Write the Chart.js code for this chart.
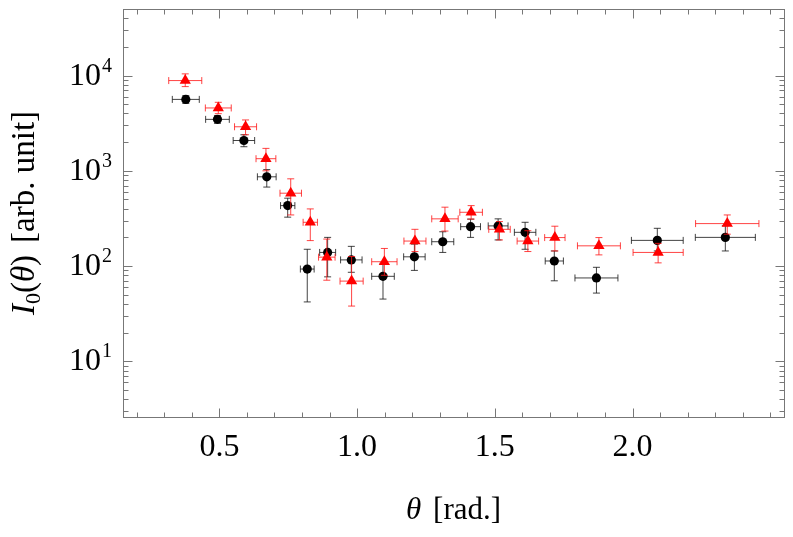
<!DOCTYPE html>
<html>
<head>
<meta charset="utf-8">
<script src="https://cdn.jsdelivr.net/npm/chart.js@4.4.1/dist/chart.umd.min.js"></script>
<style>
  body { margin: 0; background: #fff; }
  #wrap { width: 793px; height: 537px; }
</style>
</head>
<body>
<div id="wrap"><canvas id="chart" width="793" height="537"></canvas></div>
<script>
/*
DATA
*/
// black circles
const blackX    = [0.378, 0.493, 0.589, 0.672, 0.748, 0.819, 0.893, 0.979, 1.094, 1.208, 1.311, 1.412, 1.512, 1.610, 1.716, 1.869, 2.090, 2.337];
const blackY    = [5620, 3470, 2080, 865, 431, 93, 139, 116, 78, 125, 180, 259, 264, 226, 113, 75, 186, 200];
const blackXErr = [0.049, 0.043, 0.039, 0.034, 0.026, 0.025, 0.029, 0.039, 0.041, 0.039, 0.040, 0.036, 0.036, 0.039, 0.033, 0.078, 0.094, 0.109];
const blackYLo  = [5100, 3150, 1790, 675, 326, 42, 77, 86, 45, 90, 139, 200, 188, 150, 70, 52, 144, 144];
const blackYHi  = [6160, 3800, 2390, 1030, 516, 150, 200, 161, 107, 170, 229, 311, 313, 288, 144, 97, 249, 265];

// red triangles
const redX    = [0.376, 0.496, 0.595, 0.669, 0.759, 0.830, 0.890, 0.980, 1.099, 1.210, 1.319, 1.414, 1.517, 1.620, 1.718, 1.878, 2.093, 2.344];
const redY    = [8860, 4570, 2900, 1340, 582, 288, 124, 69.5, 111, 183, 313, 367, 243, 183, 199, 163, 139, 279];
const redXErr = [0.060, 0.047, 0.040, 0.036, 0.039, 0.026, 0.030, 0.042, 0.046, 0.040, 0.048, 0.041, 0.039, 0.039, 0.037, 0.078, 0.091, 0.115];
const redYLo  = [7660, 3980, 2390, 1000, 344, 185, 71, 38, 80, 142, 233, 311, 188, 142, 144, 131, 108, 216];
const redYHi  = [10420, 5240, 3420, 1720, 824, 398, 192, 126, 153, 243, 415, 431, 293, 235, 262, 199, 173, 344];

// ticks
const xMajorTicks = [0.5, 1.0, 1.5, 2.0];
const xTickLabels = ['0.5', '1.0', '1.5', '2.0'];
const xMinorTicks = [0.2, 0.3, 0.4, 0.6, 0.7, 0.8, 0.9, 1.1, 1.2, 1.3, 1.4, 1.6, 1.7, 1.8, 1.9, 2.1, 2.2, 2.3, 2.4, 2.5];
const yMajorTicks = [10, 100, 1000, 10000];
const yTickExp    = ['1', '2', '3', '4'];
const yMinorMult  = [2, 3, 4, 5, 6, 7, 8, 9];
const yDecades    = [1, 10, 100, 1000, 10000];

const SERIF = '"Liberation Serif", "DejaVu Serif", serif';

function toPoints(xs, ys) {
  return xs.map((v, i) => ({x: v, y: ys[i]}));
}

/*
PLUGINS
*/
// error bars drawn right before the markers of each dataset
const errorBars = {
  id: 'errorBars',
  beforeDatasetDraw(chart, args) {
    const ds = chart.data.datasets[args.index];
    const {ctx, scales: {x, y}} = chart;
    const cap = 3.5;
    ctx.save();
    ctx.strokeStyle = ds.errColor;
    ctx.lineWidth = 1;
    ds.data.forEach((p, i) => {
      const px = x.getPixelForValue(p.x);
      const py = y.getPixelForValue(p.y);
      const xl = x.getPixelForValue(p.x - ds.xErr[i]);
      const xr = x.getPixelForValue(p.x + ds.xErr[i]);
      const yl = y.getPixelForValue(ds.yLo[i]);
      const yh = y.getPixelForValue(ds.yHi[i]);
      ctx.beginPath();
      ctx.moveTo(xl, py); ctx.lineTo(xr, py);
      ctx.moveTo(xl, py - cap); ctx.lineTo(xl, py + cap);
      ctx.moveTo(xr, py - cap); ctx.lineTo(xr, py + cap);
      ctx.moveTo(px, yl); ctx.lineTo(px, yh);
      ctx.moveTo(px - cap, yl); ctx.lineTo(px + cap, yl);
      ctx.moveTo(px - cap, yh); ctx.lineTo(px + cap, yh);
      ctx.stroke();
    });
    ctx.restore();
  }
};

// draws pieces of text with different fonts one after another, centred on x
function drawRich(ctx, parts, x, y) {
  let total = 0;
  parts.forEach(p => { ctx.font = p.f; p.w = ctx.measureText(p.t).width; total += p.w + (p.gap || 0); });
  let cx = x - total / 2;
  ctx.textAlign = 'left';
  ctx.textBaseline = 'alphabetic';
  parts.forEach(p => {
    ctx.font = p.f;
    ctx.fillText(p.t, cx, y + (p.dy || 0));
    cx += p.w + (p.gap || 0);
  });
}

// Mathematica-like frame: ticks inside on all four sides, labels, titles
const frame = {
  id: 'frame',
  afterDraw(chart) {
    const {ctx, chartArea: a, scales: {x, y}} = chart;
    const L = Math.round(a.left) + 0.5, R = Math.round(a.right) + 0.5;
    const T = Math.round(a.top) + 0.5, B = Math.round(a.bottom) + 0.5;
    ctx.save();
    ctx.strokeStyle = '#777';
    ctx.lineWidth = 1;
    ctx.strokeRect(L, T, R - L, B - T);

    ctx.beginPath();
    const xTick = (v, len) => {
      const px = Math.round(x.getPixelForValue(v)) + 0.5;
      ctx.moveTo(px, B); ctx.lineTo(px, B - len);
      ctx.moveTo(px, T); ctx.lineTo(px, T + len);
    };
    const yTick = (v, len) => {
      const py = Math.round(y.getPixelForValue(v)) + 0.5;
      if (py < T || py > B) return;
      ctx.moveTo(L, py); ctx.lineTo(L + len, py);
      ctx.moveTo(R, py); ctx.lineTo(R - len, py);
    };
    xMajorTicks.forEach(v => xTick(v, 9));
    xMinorTicks.forEach(v => xTick(v, 5));
    yMajorTicks.forEach(v => yTick(v, 9));
    yDecades.forEach(d => yMinorMult.forEach(m => yTick(d * m, 5)));
    ctx.stroke();

    // tick labels
    ctx.fillStyle = '#000';
    ctx.font = '32px ' + SERIF;
    ctx.textAlign = 'center';
    ctx.textBaseline = 'alphabetic';
    xMajorTicks.forEach((v, i) => {
      ctx.fillText(xTickLabels[i], x.getPixelForValue(v), B + 38);
    });
    yMajorTicks.forEach((v, i) => {
      const py = y.getPixelForValue(v);
      ctx.textAlign = 'right';
      ctx.font = '20px ' + SERIF;
      const ew = ctx.measureText(yTickExp[i]).width;
      ctx.fillText(yTickExp[i], a.left - 11, py - 4);
      ctx.font = '32px ' + SERIF;
      ctx.fillText('10', a.left - 12 - ew, py + 9);
    });

    // x title
    drawRich(ctx, [
      {t: 'θ', f: 'italic 31px ' + SERIF, gap: 12},
      {t: '[rad.]', f: '31px ' + SERIF}
    ], (a.left + a.right) / 2, 519);

    // y title
    ctx.translate(34, (a.top + a.bottom) / 2);
    ctx.rotate(-Math.PI / 2);
    drawRich(ctx, [
      {t: 'I', f: 'italic 33px ' + SERIF},
      {t: '0', f: '22px ' + SERIF, dy: 6},
      {t: '(', f: '33px ' + SERIF},
      {t: 'θ', f: 'italic 33px ' + SERIF},
      {t: ')', f: '33px ' + SERIF, gap: 12},
      {t: '[arb. unit]', f: '33px ' + SERIF}
    ], 0, 0);
    ctx.restore();
  }
};

/*
CHART
*/
let canvas = document.getElementById('chart');

let chart = new Chart(canvas, {
  type: 'scatter',
  data: {
    datasets: [{
      label: 'red',
      data: toPoints(redX, redY),
      xErr: redXErr, yLo: redYLo, yHi: redYHi,
      errColor: 'rgba(255, 20, 20, 0.8)',
      pointStyle: 'triangle',
      pointRadius: 6.5,
      backgroundColor: '#ff0000',
      borderColor: '#ff0000',
      pointBorderWidth: 0
    }, {
      label: 'black',
      data: toPoints(blackX, blackY),
      xErr: blackXErr, yLo: blackYLo, yHi: blackYHi,
      errColor: 'rgba(20, 20, 20, 0.8)',
      pointStyle: 'circle',
      pointRadius: 4.6,
      backgroundColor: '#000000',
      borderColor: '#000000',
      pointBorderWidth: 0
    }]
  },
  options: {
    responsive: false,
    devicePixelRatio: 1,
    animation: false,
    layout: { padding: { left: 123, right: 9, top: 9, bottom: 120 } },
    plugins: { legend: { display: false }, tooltip: { enabled: false } },
    scales: {
      x: { type: 'linear', min: 0.15, max: 2.55, display: false },
      y: { type: 'logarithmic', min: 2.6, max: 50000, display: false }
    }
  },
  plugins: [errorBars, frame]
});
</script>
</body>
</html>
